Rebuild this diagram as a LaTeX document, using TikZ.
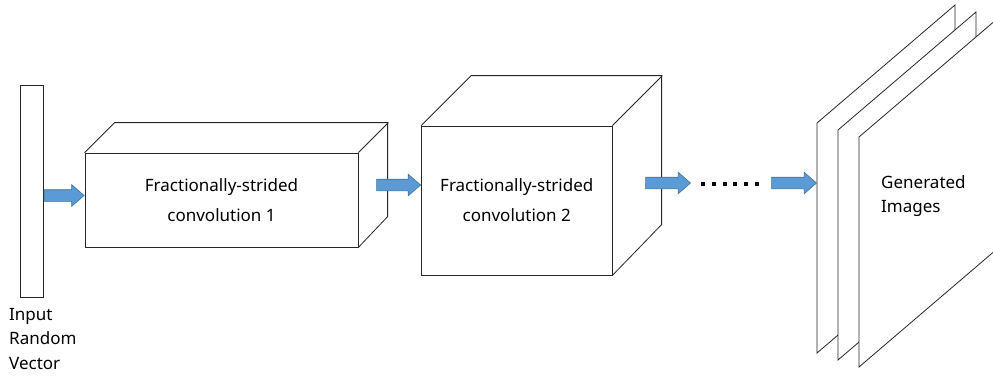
\documentclass[tikz,border=0pt]{standalone}
\usepackage{fontspec}
\setmainfont{Noto Sans}
\usetikzlibrary{shapes.arrows}

\definecolor{flowfill}{HTML}{5B9BD5}
\definecolor{flowline}{HTML}{41719C}

\tikzset{
  edge/.style={draw=black!85, line width=0.8pt},
  facet/.style={edge, fill=white},
  flow/.style={single arrow, fill=flowfill, draw=flowline, line width=0.6pt,
    inner sep=5.5pt, minimum width=21pt, single arrow head extend=5pt,
    single arrow tip angle=82, single arrow head indent=0pt, anchor=tip},
  boxtext/.style={font=\fontsize{17}{30}\selectfont, align=center},
  sidetext/.style={font=\fontsize{17}{24.5}\selectfont, align=left, inner sep=0pt, anchor=north west}
}

\begin{document}
\begin{tikzpicture}[x=1pt,y=-1pt]
  \useasboundingbox (0,0) rectangle (993,375);
  \clip (0,0) rectangle (993,375);

  % input vector
  \node[facet, inner sep=0pt, minimum width=22.5pt, minimum height=212pt] (input) at (31.75,191.5) {};
  \node[sidetext] (inputlabel) at (9,308) {Input\\Random\\Vector};

  % first block
  \node[facet, boxtext, minimum width=273pt, minimum height=94pt] (convA) at (221.5,200)
    {Fractionally-strided\\convolution 1};
  \draw[edge] (convA.north west) -- ++(30,-30) -- ++(273,0) -- ++(0,94) -- (convA.south east);
  \draw[edge] (convA.north east) -- ++(30,-30);

  % second block
  \node[facet, boxtext, minimum width=190.5pt, minimum height=149pt] (convB) at (516.75,200.5)
    {Fractionally-strided\\convolution 2};
  \draw[edge] (convB.north west) -- ++(50,-50) -- ++(190.5,0) -- ++(0,149) -- (convB.south east);
  \draw[edge] (convB.north east) -- ++(50,-50);

  % output planes
  \foreach \x/\y in {817/123, 838/130, 859/137}
    \draw[facet] (\x,\y) -- ++(138,-118) -- ++(0,230) -- ++(-138,118) -- cycle;
  \coordinate (planes) at (817,183);
  \node[sidetext] (outlabel) at (881,175) {Generated\\Images};

  % arrows between the stages
  \node[flow, minimum height=40pt] (flowA) at ([yshift=4.5pt]convA.west) {};
  \node[flow, minimum height=44pt] (flowB) at ([yshift=15.5pt]convB.west) {};
  \node[flow, minimum height=45pt] (flowC) at (691,183) {};
  \node[flow, minimum height=45pt] (flowD) at (planes) {};

  % dots
  \foreach \i in {0,...,5}
    \fill (701+10.8*\i,182) rectangle ++(4,4);
\end{tikzpicture}
\end{document}
